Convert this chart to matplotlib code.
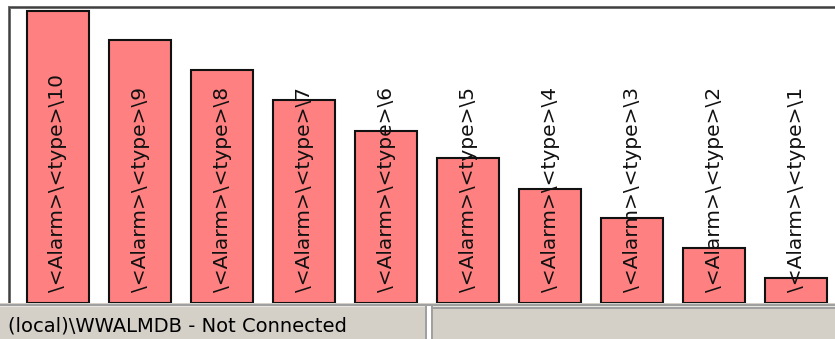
import matplotlib.pyplot as plt
from matplotlib.patches import Rectangle

W, H = 835, 339

labels = ['\\<Alarm>\\<type>\\10', '\\<Alarm>\\<type>\\9', '\\<Alarm>\\<type>\\8',
          '\\<Alarm>\\<type>\\7', '\\<Alarm>\\<type>\\6', '\\<Alarm>\\<type>\\5',
          '\\<Alarm>\\<type>\\4', '\\<Alarm>\\<type>\\3', '\\<Alarm>\\<type>\\2',
          '\\<Alarm>\\<type>\\1']
counts = [292, 263, 233, 203, 172, 145, 114, 85, 55, 25]
status_text = '(local)\\WWALMDB - Not Connected'


def px_rect(fig, x0, y0, x1, y1, color):
    # rectangle in pixel coords, y measured from the top
    fig.patches.append(Rectangle((x0 / W, 1 - y1 / H), (x1 - x0) / W, (y1 - y0) / H,
                                 transform=fig.transFigure, facecolor=color,
                                 edgecolor='none', zorder=0))


fig = plt.figure(figsize=(W / 100, H / 100), dpi=100, facecolor='white')

# chart frame (sunken border on left/top)
px_rect(fig, 8, 6, 835, 9, '#6e6e6e')
px_rect(fig, 8, 6, 11, 303, '#6e6e6e')
px_rect(fig, 9, 7, 835, 8, '#404040')
px_rect(fig, 9, 7, 10, 303, '#404040')

ax = fig.add_axes([11 / W, 1 - 303 / H, (W - 11) / W, (303 - 9) / H])
ax.set_facecolor('white')
x = list(range(len(counts)))
ax.bar(x, counts, width=62 / 82, color='#ff8080', edgecolor='#111111', linewidth=1.5)
x0 = -47 / 82
ax.set_xlim(x0, x0 + (W - 11) / 82)
ax.set_ylim(0, 294)
for xi, lab in zip(x, labels):
    ax.annotate(lab, xy=(xi, 0), xytext=(0, 8), textcoords='offset points',
                rotation=90, ha='center', va='bottom', fontsize=14.5, color='#111111')
ax.set_xticks([])
ax.set_yticks([])
for s in ax.spines.values():
    s.set_visible(False)

# status bar
px_rect(fig, 0, 303, 835, 339, '#d4d0c8')
px_rect(fig, 0, 304, 835, 306, '#a0a0a0')
px_rect(fig, 0, 306, 835, 307, '#e8e6e0')
px_rect(fig, 425, 306, 427, 339, '#a0a0a0')
px_rect(fig, 427, 306, 431, 339, '#ffffff')
px_rect(fig, 431, 306, 433, 339, '#a0a0a0')
px_rect(fig, 433, 307, 835, 309, '#a0a0a0')
fig.text(8 / W, 1 - 326 / H, status_text, ha='left', va='center',
         fontsize=14, color='black')

fig.savefig('out.png', dpi=100, facecolor=fig.get_facecolor())
